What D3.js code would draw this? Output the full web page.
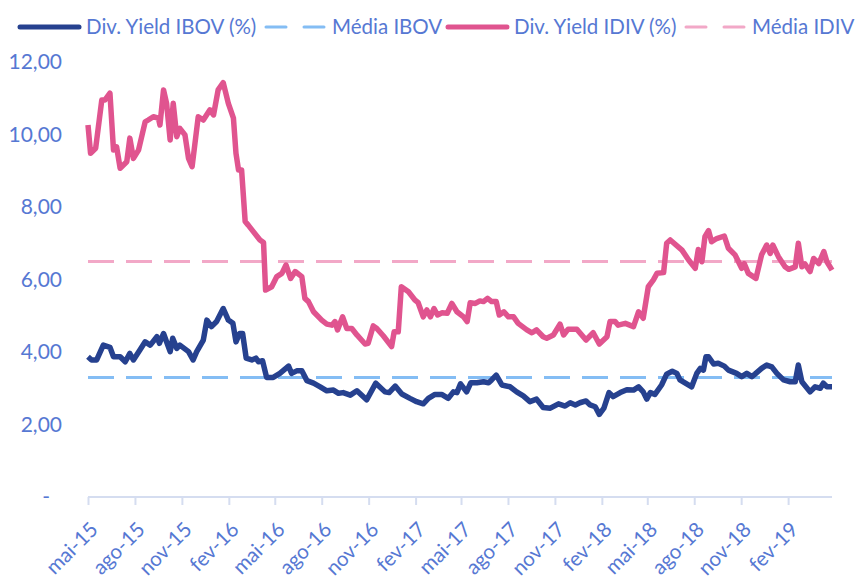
<!DOCTYPE html>
<meta charset="utf-8">

<!-- Load d3.js -->
<script src="https://d3js.org/d3.v7.min.js"></script>

<style>
  body { margin: 0; background: #fff; }
  text { font-family: Lato, "Open Sans", sans-serif; fill: #5678d3; }
</style>

<div id="my_dataviz"></div>
<script>

// ---- data ----
const ibovDates = ["2015-05-01","2015-05-08","2015-05-18","2015-05-31","2015-06-13","2015-06-20","2015-07-03","2015-07-13","2015-07-22","2015-07-29",
  "2015-08-11","2015-08-21","2015-08-31","2015-09-13","2015-09-18","2015-09-26","2015-10-09","2015-10-14","2015-10-22","2015-10-28",
  "2015-11-14","2015-11-23","2015-11-30","2015-12-13","2015-12-20","2015-12-29","2016-01-08","2016-01-21","2016-01-31","2016-02-09",
  "2016-02-15","2016-02-22","2016-02-28","2016-03-06","2016-03-17","2016-03-25","2016-03-30","2016-04-07","2016-04-15","2016-04-28",
  "2016-05-11","2016-05-28","2016-06-03","2016-06-13","2016-06-23","2016-07-03","2016-07-16","2016-07-29","2016-08-11","2016-08-24",
  "2016-09-03","2016-09-12","2016-09-26","2016-10-09","2016-10-28","2016-11-15","2016-12-03","2016-12-11","2016-12-23","2017-01-05",
  "2017-01-21","2017-02-03","2017-02-16","2017-02-26","2017-03-11","2017-03-24","2017-04-06","2017-04-16","2017-04-23","2017-04-30",
  "2017-05-12","2017-05-20","2017-06-01","2017-06-14","2017-06-24","2017-06-30","2017-07-09","2017-07-20","2017-08-05","2017-08-18",
  "2017-08-31","2017-09-13","2017-09-26","2017-10-09","2017-10-23","2017-11-08","2017-11-21","2017-12-01","2017-12-11","2017-12-20",
  "2018-01-01","2018-01-09","2018-01-19","2018-01-27","2018-02-05","2018-02-15","2018-02-23","2018-03-09","2018-03-22","2018-04-04",
  "2018-04-14","2018-04-23","2018-04-30","2018-05-07","2018-05-16","2018-05-29","2018-06-08","2018-06-19","2018-06-28","2018-07-04",
  "2018-07-27","2018-08-06","2018-08-13","2018-08-19","2018-08-24","2018-08-29","2018-09-08","2018-09-17","2018-09-29","2018-10-07",
  "2018-10-23","2018-11-02","2018-11-12","2018-11-22","2018-11-28","2018-12-11","2018-12-21","2018-12-31","2019-01-10","2019-01-23",
  "2019-02-05","2019-02-15","2019-02-21","2019-02-28","2019-03-16","2019-03-26","2019-04-05","2019-04-11","2019-04-18","2019-04-28"];
const ibovValues = [3.87,3.78,3.78,4.19,4.13,3.87,3.87,3.73,3.96,3.78,
  4.06,4.28,4.19,4.42,4.24,4.51,4.01,4.38,4.10,4.19,
  4.01,3.78,4.01,4.33,4.88,4.70,4.84,5.20,4.88,4.79,
  4.28,4.51,4.51,3.83,3.78,3.83,3.73,3.76,3.30,3.30,
  3.41,3.61,3.41,3.48,3.48,3.21,3.14,3.04,2.93,2.95,
  2.86,2.88,2.81,2.93,2.68,3.14,2.90,2.88,3.06,2.84,
  2.72,2.63,2.57,2.72,2.83,2.83,2.72,2.90,2.88,3.12,
  2.90,3.15,3.15,3.18,3.15,3.23,3.36,3.09,3.04,2.90,
  2.79,2.63,2.70,2.47,2.45,2.57,2.51,2.60,2.54,2.60,
  2.65,2.54,2.49,2.28,2.45,2.88,2.77,2.88,2.96,2.95,
  3.04,2.90,2.70,2.88,2.83,3.09,3.39,3.47,3.41,3.23,
  3.04,3.41,3.55,3.50,3.87,3.87,3.67,3.69,3.61,3.50,
  3.41,3.32,3.41,3.32,3.39,3.55,3.64,3.59,3.41,3.23,
  3.18,3.18,3.64,3.18,2.90,3.04,3.00,3.14,3.04,3.04];

const idivDates = ["2015-05-01","2015-05-06","2015-05-16","2015-05-28","2015-06-03","2015-06-13","2015-06-20","2015-06-26","2015-07-03","2015-07-16",
  "2015-07-22","2015-07-29","2015-08-08","2015-08-21","2015-08-27","2015-09-06","2015-09-16","2015-09-19","2015-09-26","2015-10-02",
  "2015-10-09","2015-10-15","2015-10-22","2015-10-28","2015-11-07","2015-11-14","2015-11-21","2015-12-03","2015-12-13","2015-12-26",
  "2016-01-02","2016-01-11","2016-01-21","2016-01-31","2016-02-10","2016-02-15","2016-02-20","2016-02-26","2016-03-04","2016-03-10",
  "2016-03-20","2016-04-02","2016-04-09","2016-04-13","2016-04-25","2016-05-05","2016-05-15","2016-05-23","2016-06-01","2016-06-10",
  "2016-06-23","2016-06-29","2016-07-06","2016-07-16","2016-08-01","2016-08-11","2016-08-21","2016-08-27","2016-09-01","2016-09-11",
  "2016-09-19","2016-09-29","2016-10-09","2016-10-25","2016-10-31","2016-11-10","2016-11-17","2016-11-30","2016-12-16","2016-12-21",
  "2016-12-29","2017-01-04","2017-01-18","2017-01-31","2017-02-06","2017-02-16","2017-02-23","2017-03-02","2017-03-09","2017-03-16",
  "2017-03-25","2017-04-04","2017-04-13","2017-04-23","2017-05-06","2017-05-13","2017-05-19","2017-05-29","2017-06-07","2017-06-14",
  "2017-06-22","2017-06-30","2017-07-09","2017-07-15","2017-07-24","2017-08-02","2017-08-12","2017-08-21","2017-09-07","2017-09-17",
  "2017-09-26","2017-10-09","2017-10-16","2017-10-29","2017-11-11","2017-11-18","2017-11-27","2017-12-14","2018-01-01","2018-01-15",
  "2018-01-27","2018-02-11","2018-02-17","2018-02-27","2018-03-05","2018-03-19","2018-04-04","2018-04-14","2018-04-23","2018-05-03",
  "2018-05-13","2018-05-20","2018-06-02","2018-06-08","2018-06-15","2018-07-08","2018-07-21","2018-08-03","2018-08-09","2018-08-16",
  "2018-08-22","2018-08-29","2018-09-04","2018-09-14","2018-09-29","2018-10-07","2018-10-20","2018-11-02","2018-11-07","2018-11-15",
  "2018-11-30","2018-12-11","2018-12-21","2018-12-28","2019-01-02","2019-01-13","2019-01-26","2019-02-02","2019-02-15","2019-02-21",
  "2019-02-28","2019-03-06","2019-03-16","2019-03-23","2019-04-02","2019-04-12","2019-04-18","2019-04-28"];
const idivValues = [10.26,9.48,9.62,10.95,10.95,11.14,9.57,9.66,9.07,9.25,
  9.90,9.34,9.57,10.35,10.40,10.49,10.45,10.26,11.23,10.86,
  9.85,10.86,9.94,10.17,9.99,9.34,9.11,10.49,10.40,10.68,
  10.54,11.23,11.43,10.86,10.45,9.48,9.02,9.02,7.60,7.50,
  7.32,7.09,7.02,5.71,5.80,6.08,6.17,6.40,6.03,6.22,
  6.08,5.48,5.39,5.11,4.88,4.77,4.74,4.84,4.61,4.97,
  4.65,4.65,4.47,4.22,4.24,4.72,4.65,4.44,4.15,4.56,
  4.56,5.80,5.66,5.43,5.36,4.97,5.16,4.97,5.20,5.02,
  5.08,5.07,5.34,5.11,4.97,4.84,5.36,5.34,5.41,5.39,
  5.48,5.39,5.39,5.02,5.11,4.97,4.97,4.79,4.61,4.53,
  4.61,4.42,4.38,4.47,4.77,4.47,4.63,4.63,4.33,4.53,
  4.22,4.42,4.84,4.84,4.74,4.79,4.70,5.11,4.93,5.80,
  5.99,6.17,6.19,7.00,7.09,6.81,6.54,6.31,6.83,6.49,
  7.18,7.35,7.04,7.13,7.20,6.86,6.68,6.31,6.44,6.17,
  6.03,6.68,6.95,6.72,6.95,6.63,6.35,6.28,6.35,7.00,
  6.35,6.43,6.22,6.58,6.44,6.77,6.49,6.26];

const mediaIbov = 3.30;
const mediaIdiv = 6.50;

const yTicks = [0, 2, 4, 6, 8, 10, 12];
const xTickDates = ["2015-05-01","2015-08-01","2015-11-01","2016-02-01","2016-05-01","2016-08-01","2016-11-01","2017-02-01",
  "2017-05-01","2017-08-01","2017-11-01","2018-02-01","2018-05-01","2018-08-01","2018-11-01","2019-02-01"];
const monthNames = ["jan","fev","mar","abr","mai","jun","jul","ago","set","out","nov","dez"];

const legendLabels = ["Div. Yield IBOV (%)", "Média IBOV", "Div. Yield IDIV (%)", "Média IDIV"];

// ---- setup ----
const W = 856, H = 580;
const parse = d3.timeParse("%Y-%m-%d");

const svg = d3.select("#my_dataviz")
  .append("svg")
    .attr("width", W)
    .attr("height", H);

const x = d3.scaleTime()
  .domain([parse("2015-05-01"), parse("2019-04-28")])
  .range([88, 832]);

const y = d3.scaleLinear()
  .domain([0, 12])
  .range([497, 62]);

const colIbov = "#26418f", colIdiv = "#e0548f", colMIbov = "#84bdf4", colMIdiv = "#f2a8c7";

// X axis
const xAxis = svg.append("g")
  .attr("transform", `translate(0, ${y(0)})`)
  .call(d3.axisBottom(x)
    .tickValues(xTickDates.map(parse))
    .tickSize(8)
    .tickSizeOuter(0)
    .tickFormat(d => monthNames[d.getMonth()] + "-" + d3.timeFormat("%y")(d)));
xAxis.select(".domain").attr("stroke", "#d5ddf0").attr("stroke-width", 2).attr("d", `M${x.range()[0]},0H${x.range()[1]}`);
xAxis.selectAll(".tick line").attr("stroke", "#d5ddf0").attr("stroke-width", 2);
xAxis.selectAll(".tick text")
  .attr("font-size", 20.5)
  .attr("text-anchor", "end")
  .attr("dy", 0)
  .attr("transform", "translate(3, 26) rotate(-45)");

// Y axis (labels only)
const yAxis = svg.append("g")
  .attr("transform", "translate(62, 0)")
  .call(d3.axisLeft(y)
    .tickValues(yTicks)
    .tickSize(0)
    .tickPadding(0)
    .tickFormat(d => d === 0 ? "-" : d3.format(".2f")(d).replace(".", ",")));
yAxis.select(".domain").remove();
yAxis.selectAll(".tick text")
  .attr("font-size", 21)
  .attr("x", d => d === 0 ? -12 : 0);

// average lines
[[mediaIbov, colMIbov], [mediaIdiv, colMIdiv]].forEach(([v, c]) => {
  svg.append("line")
    .attr("x1", x.range()[0]).attr("x2", x.range()[1])
    .attr("y1", y(v)).attr("y2", y(v))
    .attr("stroke", c).attr("stroke-width", 3)
    .attr("stroke-dasharray", "26 12");
});

// series
const line = d3.line()
  .x(d => x(d[0]))
  .y(d => y(d[1]));

[[ibovDates, ibovValues, colIbov], [idivDates, idivValues, colIdiv]].forEach(([ds, vs, c]) => {
  svg.append("path")
    .datum(ds.map((d, i) => [parse(d), vs[i]]))
    .attr("fill", "none")
    .attr("stroke", c)
    .attr("stroke-width", 5.5)
    .attr("stroke-linejoin", "round")
    .attr("d", line);
});

// legend
const legendItems = [
  {x: 20, c: colIbov, dash: null},
  {x: 266, c: colMIbov, dash: "20 18"},
  {x: 448, c: colIdiv, dash: null},
  {x: 686, c: colMIdiv, dash: "20 18"}
];
const lg = svg.append("g");
legendItems.forEach((it, i) => {
  lg.append("line")
    .attr("x1", it.x).attr("x2", it.x + 59)
    .attr("y1", 27).attr("y2", 27)
    .attr("stroke", it.c)
    .attr("stroke-width", it.dash ? 3 : 5)
    .attr("stroke-linecap", "round")
    .attr("stroke-dasharray", it.dash);
  lg.append("text")
    .attr("x", it.x + 66)
    .attr("y", 27)
    .attr("dy", "0.35em")
    .attr("font-size", 20.5)
    .text(legendLabels[i]);
});

</script>
